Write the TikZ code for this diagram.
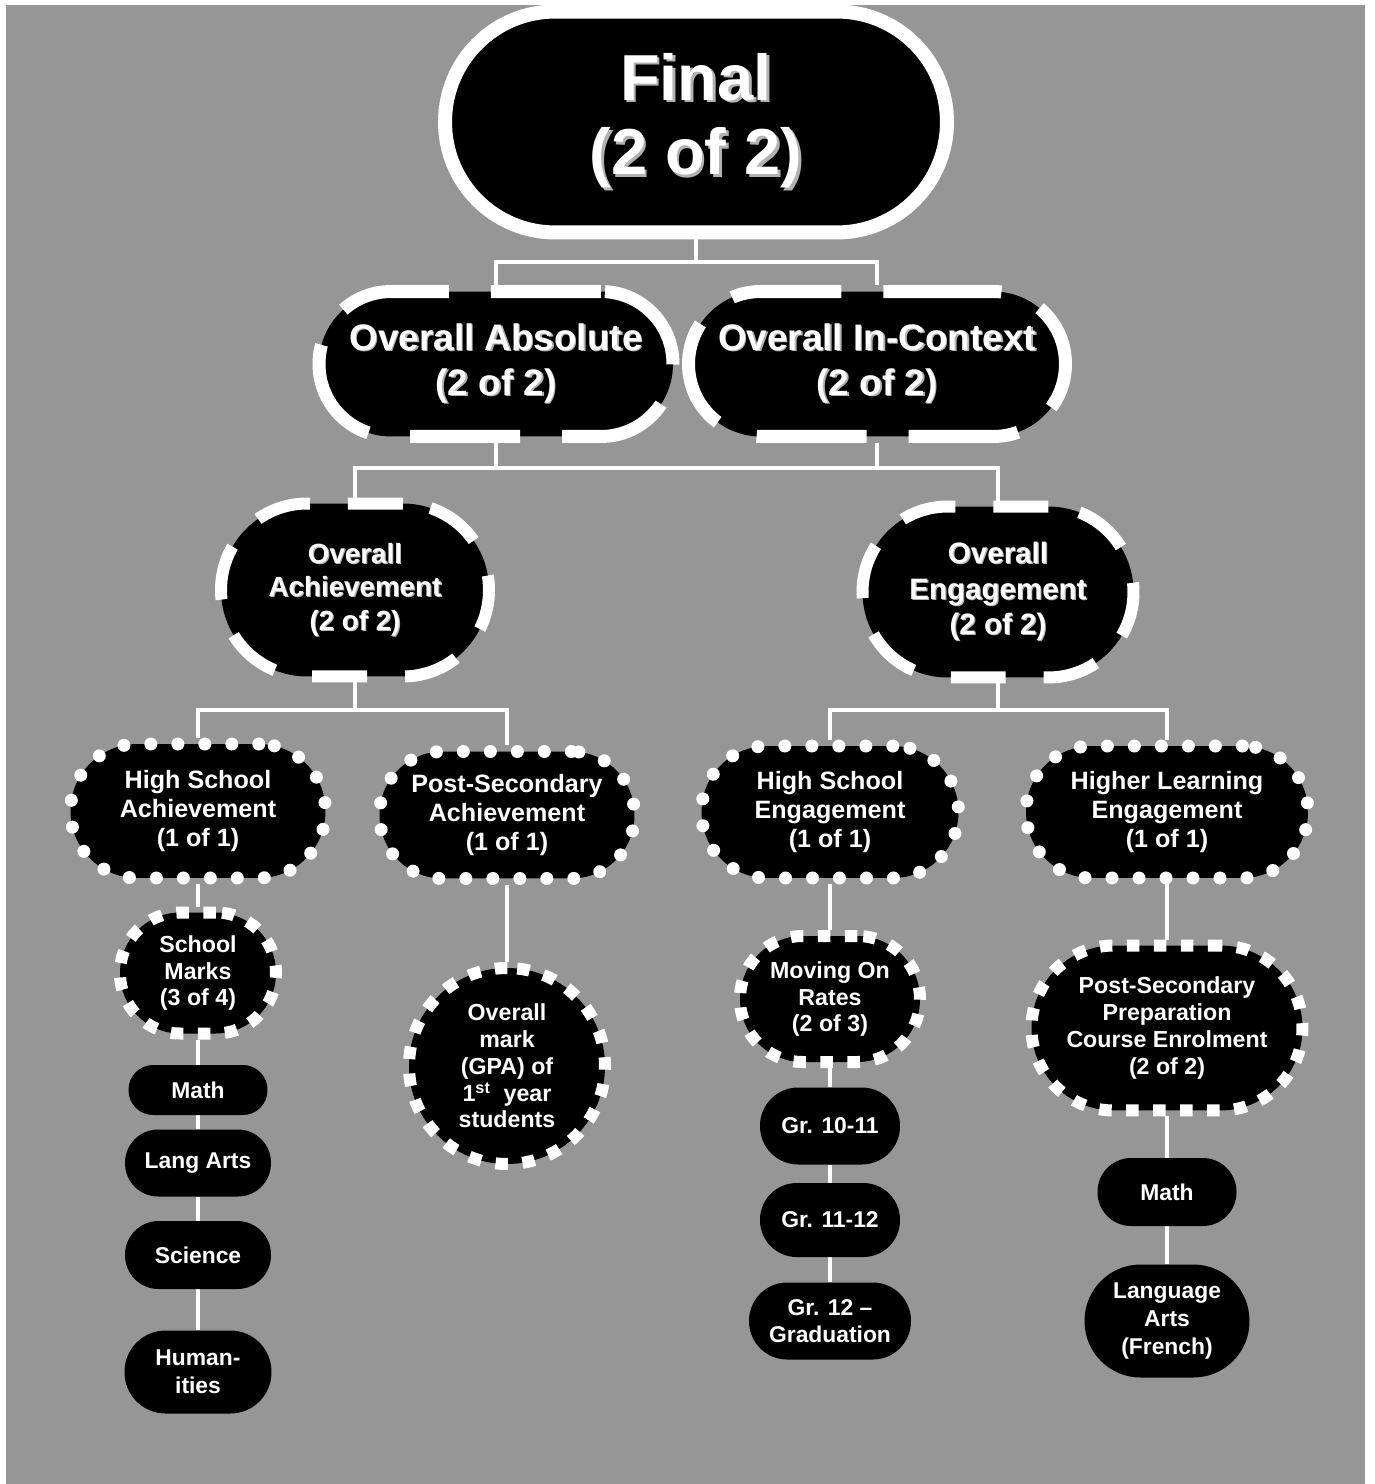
\documentclass[tikz,border=0pt]{standalone}
\usepackage{fontspec}
\setmainfont{Liberation Sans}
\definecolor{slidegray}{RGB}{150,150,150}
\definecolor{textshade}{RGB}{178,178,178}
\pgfdeclarelayer{bg}
\pgfdeclarelayer{links}
\pgfsetlayers{bg,links,main}
\newcommand{\shadowed}[1]{\makebox[0pt][l]{\kern0.04em\raisebox{-0.04em}{\textcolor{textshade}{#1}}}#1}

\begin{document}
\begin{tikzpicture}[
        x=0.02cm, y=-0.02cm,
        pill/.style 2 args={
            rectangle,
            fill=black,
            text=white,
            align=center,
            inner sep=0pt,
            minimum width=#1,
            minimum height=#2,
            rounded corners=#2/2-0.2pt
        },
        finalbox/.style={
            draw=white,
            line width=0.28cm,
            font=\fontsize{37}{42.5}\selectfont\bfseries
        },
        levtwo/.style={
            draw=white,
            line width=0.26cm,
            dash pattern=on 2.2cm off 0.84cm,
            font=\fontsize{21}{25.5}\selectfont\bfseries
        },
        levthree/.style={
            draw=white,
            line width=0.24cm,
            dash pattern=on 1.1cm off 0.76cm,
            font=\fontsize{15.8}{19}\selectfont\bfseries
        },
        dotborder/.style={
            draw=white,
            line width=0.26cm,
            line cap=round,
            dash pattern=on 0pt off 0.54cm,
            font=\fontsize{14.3}{16.5}\selectfont\bfseries
        },
        squareborder/.style={
            draw=white,
            line width=0.24cm,
            dash pattern=on 0.25cm off 0.29cm,
            font=\fontsize{13.2}{15.2}\selectfont\bfseries
        },
        leaf/.style={
            font=\fontsize{13}{15.8}\selectfont\bfseries
        },
        link/.style={
            draw=white,
            line width=2pt
        }
    ]
        \useasboundingbox (0,0) rectangle (1375,1484);
        \begin{pgfonlayer}{bg}
            \fill[slidegray] (6,5) rectangle (1365,1484);
        \end{pgfonlayer}

        \node[pill={10.04cm}{4.42cm}, finalbox] (final) at (696,122) {\shadowed{Final}\\\shadowed{(2 of 2)}};

        \node[pill={7.08cm}{2.9cm}, levtwo] (absolute) at (496,364) {\shadowed{Overall Absolute}\\\shadowed{(2 of 2)}};
        \node[pill={7.54cm}{2.9cm}, levtwo] (incontext) at (877,364) {\shadowed{Overall In-Context}\\\shadowed{(2 of 2)}};

        \node[pill={5.36cm}{3.46cm}, levthree] (achievement) at (355,590) {\shadowed{Overall}\\\shadowed{Achievement}\\\shadowed{(2 of 2)}};
        \node[pill={5.42cm}{3.42cm}, levthree, font=\fontsize{16.8}{20.2}\selectfont\bfseries] (engagement) at (998,592) {\shadowed{Overall}\\\shadowed{Engagement}\\\shadowed{(2 of 2)}};

        \node[pill={5.1cm}{2.68cm}, dotborder] (hsach) at (198,811) {High School\\Achievement\\(1 of 1)};
        \node[pill={5.1cm}{2.54cm}, dotborder] (psach) at (507,815) {Post-Secondary\\Achievement\\(1 of 1)};
        \node[pill={5.14cm}{2.64cm}, dotborder] (hseng) at (830,812) {High School\\Engagement\\(1 of 1)};
        \node[pill={5.64cm}{2.64cm}, dotborder] (hleng) at (1167,812) {Higher Learning\\Engagement\\(1 of 1)};

        \node[pill={3.12cm}{2.42cm}, squareborder] (schoolmarks) at (198,973) {School\\Marks\\(3 of 4)};
        \node[pill={3.92cm}{3.92cm}, squareborder] (gpa) at (507,1066) {Overall\\mark\\(GPA) of\\1\textsuperscript{st}~ year\\students};
        \node[pill={3.6cm}{2.52cm}, squareborder] (movingon) at (830,999) {Moving On\\Rates\\(2 of 3)};
        \node[pill={5.42cm}{3.3cm}, squareborder] (psprep) at (1167,1028) {Post-Secondary\\Preparation\\Course Enrolment\\(2 of 2)};

        \node[pill={2.78cm}{1.0cm}, leaf] (math1) at (198,1090) {Math};
        \node[pill={2.92cm}{1.34cm}, leaf] (langarts) at (198,1163) {Lang Arts};
        \node[pill={2.92cm}{1.36cm}, leaf] (science) at (198,1255) {Science};
        \node[pill={2.94cm}{1.66cm}, leaf] (humanities) at (198,1372) {Human-\\ities};

        \node[pill={2.8cm}{1.54cm}, leaf] (grtenel) at (830,1126) {Gr. 10-11};
        \node[pill={2.8cm}{1.48cm}, leaf] (grelevtw) at (830,1220) {Gr. 11-12};
        \node[pill={3.24cm}{1.54cm}, leaf] (grgrad) at (830,1321) {Gr. 12 --\\Graduation};

        \node[pill={2.78cm}{1.36cm}, leaf] (math2) at (1167,1192) {Math};
        \node[pill={3.3cm}{2.26cm}, leaf] (langfr) at (1167,1321) {Language\\Arts\\(French)};

        \coordinate (j0) at (696,262);
        \coordinate (j1) at (496,468);
        \coordinate (j2) at (355,710);
        \coordinate (j3) at (998,710);

        \begin{pgfonlayer}{links}
            \draw[link] (final) -- (j0);
            \draw[link] (absolute.north) |- (j0) -| (incontext.north);
            \draw[link] (absolute) -- (j1);
            \draw[link] (incontext.south) -- (incontext.south |- j1);
            \draw[link] (achievement.north) |- (j1) -| (engagement.north);
            \draw[link] (achievement) -- (j2);
            \draw[link] (hsach.north) |- (j2) -| (psach.north);
            \draw[link] (engagement) -- (j3);
            \draw[link] (hseng.north) |- (j3) -| (hleng.north);
            \draw[link] (hsach) -- (schoolmarks) -- (math1) -- (langarts) -- (science) -- (humanities);
            \draw[link] (psach) -- (gpa);
            \draw[link] (hseng) -- (movingon) -- (grtenel) -- (grelevtw) -- (grgrad);
            \draw[link] (hleng) -- (psprep) -- (math2) -- (langfr);
        \end{pgfonlayer}
    \end{tikzpicture}
\end{document}
